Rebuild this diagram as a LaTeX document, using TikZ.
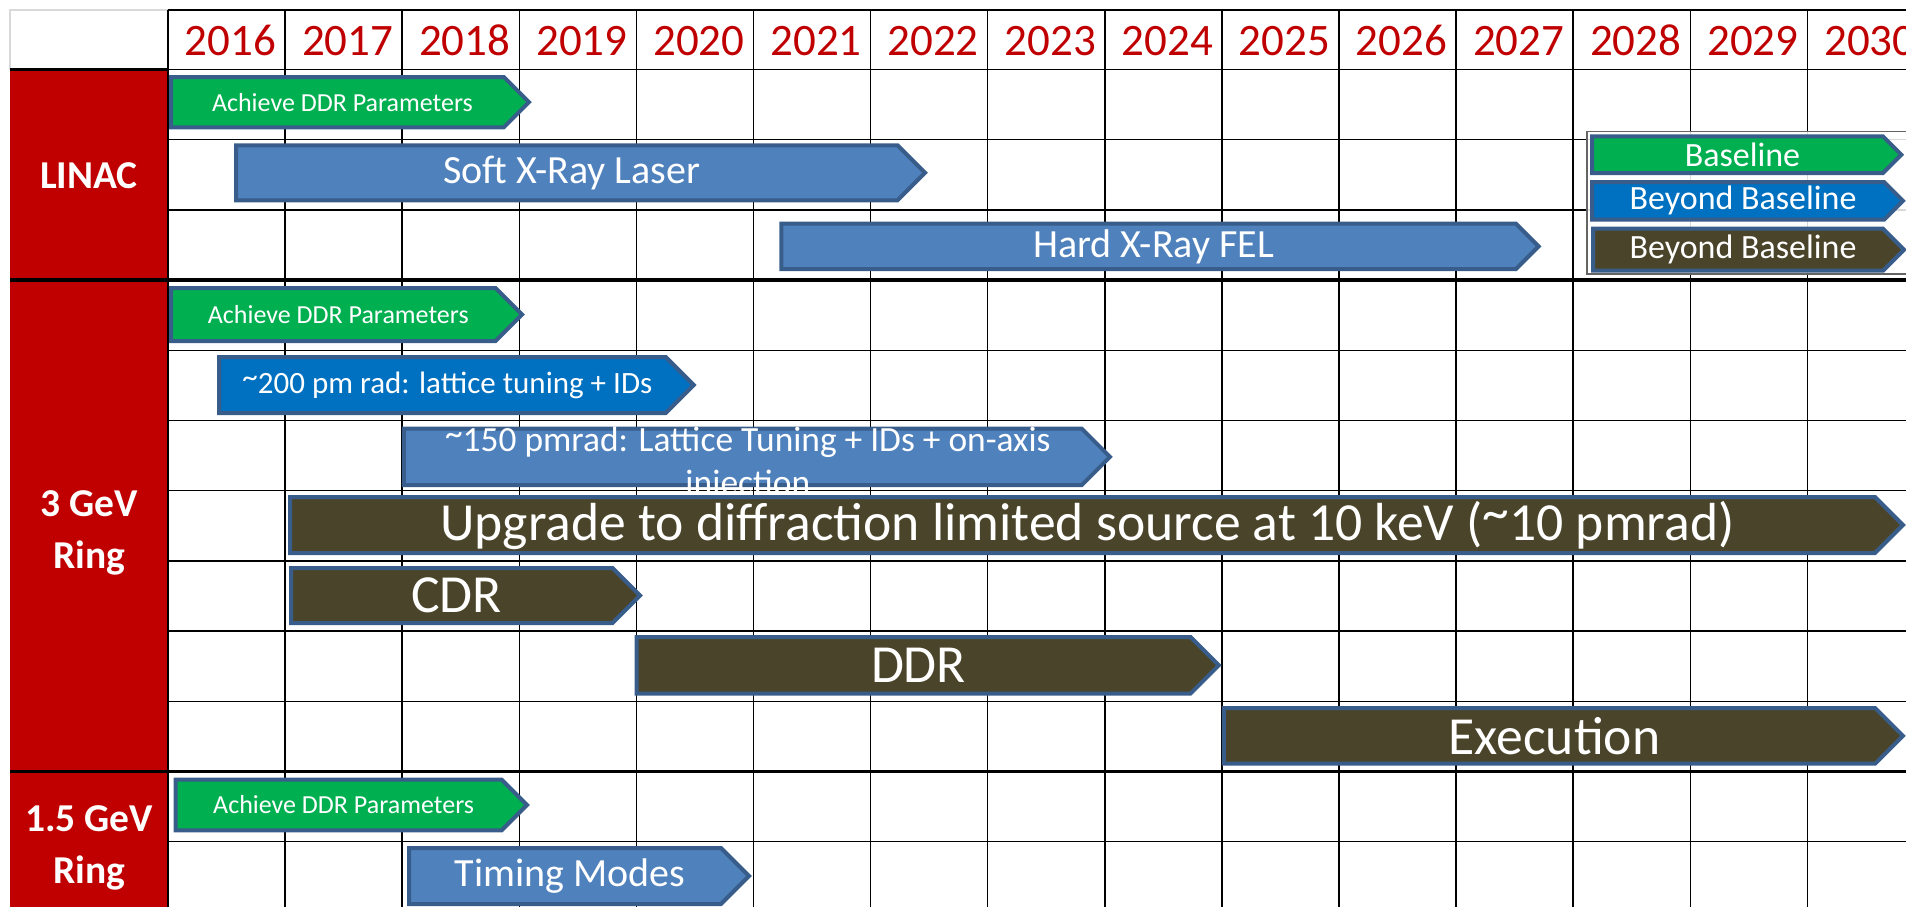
\documentclass[tikz,border=0pt]{standalone}
\usepackage{fontspec}
\setmainfont{Carlito}
\usetikzlibrary{calc}
\definecolor{groupred}{RGB}{192,0,0}
\definecolor{taskgreen}{RGB}{0,176,80}
\definecolor{taskblue}{RGB}{0,112,192}
\definecolor{tasklight}{RGB}{79,129,189}
\definecolor{taskolive}{RGB}{74,69,42}
\definecolor{taskborder}{RGB}{56,93,138}
\definecolor{cellgray}{RGB}{217,217,217}
\definecolor{legendborder}{RGB}{100,100,100}

% raised tilde as printed in the chart
\newcommand{\hightilde}{\raisebox{0.17em}{\textasciitilde}}

% [#1 text options], #2 fill style, #3 name, #4 left x, #5 tip x, #6 top y, #7 bottom y, #8 font size (pt), #9 text
\newcommand{\ganttbar}[9][]{%
    \pgfmathsetmacro{\tipx}{#5-(#7-#6)/2}%
    \pgfmathsetmacro{\midy}{(#6+#7)/2}%
    \pgfmathsetmacro{\textx}{(#4+\tipx)/2+6}%
    \pgfmathsetmacro{\barskip}{1.2*#8}%
    \draw[bar, #2] (#4+2,#6+2) -- (\tipx,#6+2) -- (#5-2,\midy) -- (\tipx,#7-2) -- (#4+2,#7-2) -- cycle;
    \node[bartext, font=\fontsize{#8}{\barskip}\selectfont, #1] (#3) at (\textx,\midy) {#9};%
}

\begin{document}
\begin{tikzpicture}[
                        x=0.5pt, y=-0.5pt,
                        gridline/.style={draw=black, line width=0.75pt},
                        thickline/.style={draw=black, line width=1.75pt},
                        yearlabel/.style={
                                text=groupred, inner sep=0pt,
                                font=\fontsize{22.5}{27}\selectfont
                            },
                        grouplabel/.style={
                                text=white, align=center, inner sep=0pt,
                                font=\fontsize{19.75}{26}\selectfont\bfseries
                            },
                        bar/.style={draw=taskborder, line width=2pt},
                        bartext/.style={text=white, align=center, inner sep=0pt},
                        greenbar/.style={fill=taskgreen},
                        bluebar/.style={fill=taskblue},
                        lightbar/.style={fill=tasklight},
                        olivebar/.style={fill=taskolive},
                        legendbox/.style={draw=legendborder, line width=0.6pt, fill=white, fill opacity=0.85}
                    ]

                    \useasboundingbox (0,0) rectangle (1906,907);
                    \clip (0,0) rectangle (1906,907);

                    % ===== Grid =====
                    \foreach \k in {0,...,15}
                        \draw[gridline] ({168+\k*117.1},10) -- ({168+\k*117.1},907);
                    \foreach \r in {0,...,12}
                        \draw[gridline] (168,{69.5+\r*70.2}) -- (1906,{69.5+\r*70.2});
                    \draw[gridline] (168,10) -- (1906,10);
                    \draw[cellgray, line width=0.75pt] (10,69.5) -- (10,10) -- (168,10);

                    % ===== Years =====
                    \foreach \yr [count=\i from 0] in {2016,...,2030}
                        \node[yearlabel] (yr\yr) at ({168+(\i+0.5)*117.1+4},40.75) {\yr};

                    % ===== Group column =====
                    \fill[groupred] (10,69.5) rectangle (168,907);
                    \draw[thickline] (10,69.5) -- (168,69.5);
                    \draw[thickline] (10,280.1) -- (1906,280.1);
                    \draw[thickline] (10,771.5) -- (1906,771.5);
                    \draw[black, line width=1.25pt] (168,10) -- (168,907);

                    \node[grouplabel] (linac) at (89,176) {LINAC};
                    \node[grouplabel] (ring3) at (89,532.5) {3 GeV\\Ring};
                    \node[grouplabel] (ring15) at (89,847.5) {1.5 GeV\\Ring};

                    % ===== LINAC =====
                    \ganttbar{greenbar}{linacddr}{169}{531}{75}{129.3}{13}{Achieve DDR Parameters}
                    \ganttbar{lightbar}{softxray}{234}{927}{143.3}{202.3}{20}{Soft X-Ray Laser}
                    \ganttbar{lightbar}{hardxray}{779.4}{1540.6}{221.7}{271}{20}{Hard X-Ray FEL}

                    % ===== 3 GeV Ring =====
                    \ganttbar{greenbar}{ringddr}{169}{524}{286}{343}{13}{Achieve DDR Parameters}
                    \ganttbar{bluebar}{lattice200}{217}{695.7}{355}{415}{15.5}{\hightilde200 pm rad: lattice tuning + IDs}
                    \ganttbar[yshift=-3.5pt]{lightbar}{lattice150}{401.8}{1112}{426.7}{487}{17.7}{\hightilde150 pmrad: Lattice Tuning + IDs + on-axis\\injection}
                    \ganttbar{olivebar}{upgrade}{288}{1905}{495}{555}{26.8}{Upgrade to diffraction limited source at 10 keV (\hightilde10 pmrad)}
                    \ganttbar{olivebar}{cdr}{289}{642}{566}{625}{26.8}{CDR}
                    \ganttbar{olivebar}{ddr}{634.5}{1220.8}{635}{695.5}{26.8}{DDR}
                    \ganttbar{olivebar}{execution}{1221.8}{1905}{706}{765.7}{26.8}{Execution}

                    % ===== 1.5 GeV Ring =====
                    \ganttbar{greenbar}{smallddr}{173.5}{529}{777.7}{832.3}{13}{Achieve DDR Parameters}
                    \ganttbar{lightbar}{timing}{407}{751}{846}{906}{20}{Timing Modes}

                    % ===== Legend =====
                    \path[legendbox] (1587,131.7) rectangle (1925,274);
                    \ganttbar{greenbar}{legbase}{1590}{1903.3}{134.3}{175}{17}{Baseline}
                    \ganttbar{bluebar}{legbeyond}{1590}{1905}{180}{221.7}{17}{Beyond Baseline}
                    \ganttbar{olivebar}{legbeyondolive}{1591}{1906}{226.7}{272.7}{17}{Beyond Baseline}

                \end{tikzpicture}
\end{document}
